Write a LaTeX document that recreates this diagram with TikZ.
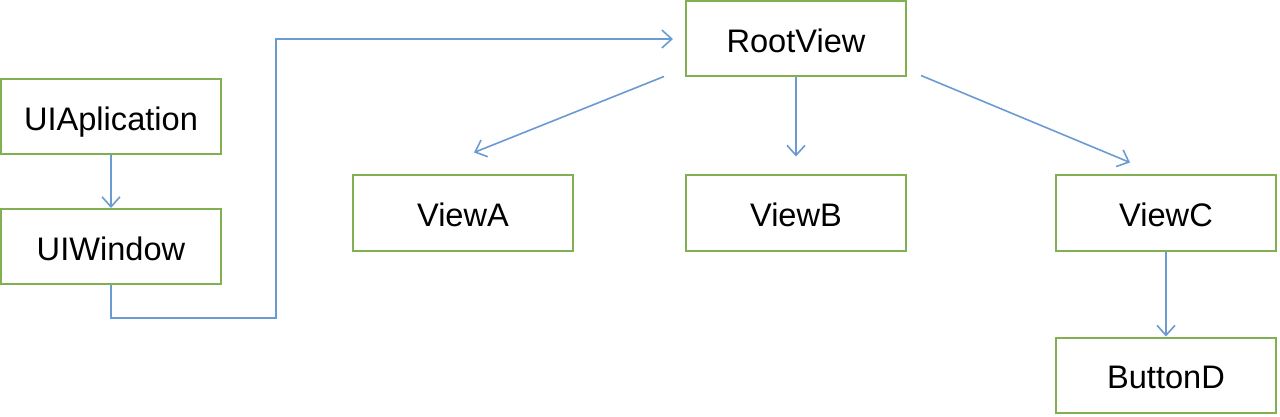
\documentclass[tikz,border=0pt]{standalone}
\usepackage{fontspec}
\setmainfont{Liberation Sans}
\usetikzlibrary{positioning,arrows.meta,calc}
\definecolor{boxgreen}{RGB}{128,176,82}
\definecolor{linkblue}{RGB}{108,155,210}

\begin{document}
\begin{tikzpicture}[x=0.5pt,y=-0.5pt,
  box/.style={draw=boxgreen,line width=1pt,minimum width=110pt,minimum height=37.5pt,inner sep=0pt,text height=13.7pt,text depth=0pt,font=\fontsize{16.3}{19}\selectfont},
  link/.style={draw=linkblue,line width=0.8pt,-{Straight Barb[length=5pt,width=9pt]}}]
\useasboundingbox (0,0) rectangle (1280,417);
\node[box] (app) at (111,116.5) {UIAplication};
\node[box] (win) at (111,246.5) {UIWindow};
\node[box] (root) at (796,39) {RootView};
\node[box] (viewA) at (463,213) {ViewA};
\node[box] (viewB) at (796,213) {ViewB};
\node[box] (viewC) at (1166,213) {ViewC};
\node[box] (btnD) at (1166,375) {ButtonD};
\coordinate (bend) at (276,318);
\draw[link] (app) -- (win);
\draw[link] (win.south) |- (bend) |- ($(root.west)+(-12,0)$);
\draw[link] ($(root.south west)+(-21,-1)$) -- ($(viewA.north)+(11,-22)$);
\draw[link] (root.south) -- ($(viewB.north)+(0,-18)$);
\draw[link] ($(root.south east)+(14,-2)$) -- ($(viewC.north)+(-36,-12)$);
\draw[link] (viewC) -- (btnD);
\end{tikzpicture}
\end{document}
